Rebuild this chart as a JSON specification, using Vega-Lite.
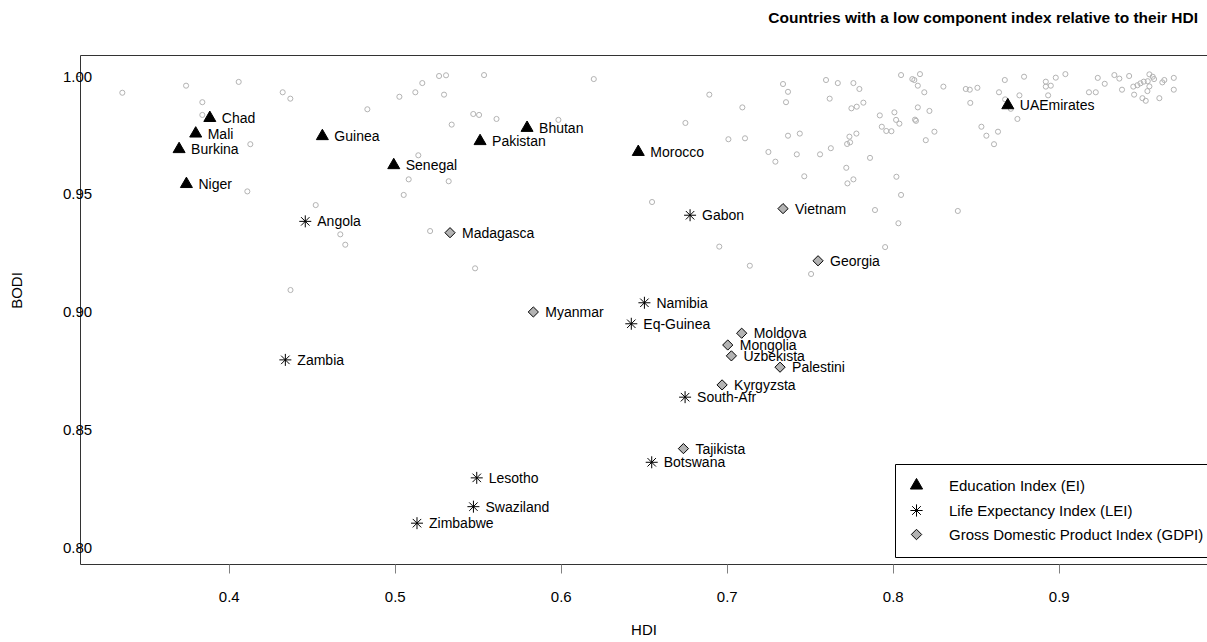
{
  "$schema": "https://vega.github.io/schema/vega-lite/v6.json",
  "width": 1127,
  "height": 509,
  "autosize": "none",
  "padding": {"left": 80, "top": 55, "right": 0, "bottom": 78},
  "background": "white",
  "title": {
    "text": "Countries with a low component index relative to their HDI",
    "anchor": "end",
    "frame": "group",
    "dx": -9,
    "offset": 14,
    "baseline": "bottom",
    "font": "Liberation Sans",
    "fontSize": 15.5,
    "fontWeight": "bold",
    "color": "black"
  },
  "config": {
    "view": {"stroke": "#333333", "strokeWidth": 1},
    "font": "Liberation Sans"
  },
  "datasets": {
    "bg": [
      {"hdi": 0.3359, "bodi": 0.9929}, {"hdi": 0.3743, "bodi": 0.9959}, {"hdi": 0.4060, "bodi": 0.9975},
      {"hdi": 0.3841, "bodi": 0.9889}, {"hdi": 0.3841, "bodi": 0.9835}, {"hdi": 0.4130, "bodi": 0.9711},
      {"hdi": 0.4112, "bodi": 0.9511}, {"hdi": 0.4325, "bodi": 0.9931}, {"hdi": 0.4371, "bodi": 0.9904},
      {"hdi": 0.4835, "bodi": 0.9859}, {"hdi": 0.5028, "bodi": 0.9912}, {"hdi": 0.5124, "bodi": 0.9931},
      {"hdi": 0.5166, "bodi": 0.9970}, {"hdi": 0.5267, "bodi": 1.0000}, {"hdi": 0.5309, "bodi": 1.0003},
      {"hdi": 0.5297, "bodi": 0.9921}, {"hdi": 0.5538, "bodi": 1.0004}, {"hdi": 0.5343, "bodi": 0.9794},
      {"hdi": 0.5473, "bodi": 0.9839}, {"hdi": 0.5508, "bodi": 0.9835}, {"hdi": 0.5142, "bodi": 0.9664},
      {"hdi": 0.5084, "bodi": 0.9562}, {"hdi": 0.5325, "bodi": 0.9554}, {"hdi": 0.5054, "bodi": 0.9496},
      {"hdi": 0.4524, "bodi": 0.9453}, {"hdi": 0.4672, "bodi": 0.9329}, {"hdi": 0.4702, "bodi": 0.9285},
      {"hdi": 0.5213, "bodi": 0.9343}, {"hdi": 0.5484, "bodi": 0.9185}, {"hdi": 0.4372, "bodi": 0.9093},
      {"hdi": 0.5613, "bodi": 0.9818}, {"hdi": 0.5986, "bodi": 0.9814}, {"hdi": 0.6199, "bodi": 0.9987},
      {"hdi": 0.6895, "bodi": 0.9921}, {"hdi": 0.7094, "bodi": 0.9867}, {"hdi": 0.6751, "bodi": 0.9801},
      {"hdi": 0.7010, "bodi": 0.9732}, {"hdi": 0.7110, "bodi": 0.9736}, {"hdi": 0.7339, "bodi": 0.9966},
      {"hdi": 0.7369, "bodi": 0.9933}, {"hdi": 0.7357, "bodi": 0.9889}, {"hdi": 0.7598, "bodi": 0.9983},
      {"hdi": 0.7669, "bodi": 0.9970}, {"hdi": 0.7763, "bodi": 0.9970}, {"hdi": 0.7799, "bodi": 0.9945},
      {"hdi": 0.7620, "bodi": 0.9904}, {"hdi": 0.7751, "bodi": 0.9863}, {"hdi": 0.7783, "bodi": 0.9870},
      {"hdi": 0.7823, "bodi": 0.9887}, {"hdi": 0.7922, "bodi": 0.9833}, {"hdi": 0.7934, "bodi": 0.9785},
      {"hdi": 0.7961, "bodi": 0.9767}, {"hdi": 0.7369, "bodi": 0.9747}, {"hdi": 0.7440, "bodi": 0.9756},
      {"hdi": 0.7251, "bodi": 0.9678}, {"hdi": 0.7293, "bodi": 0.9637}, {"hdi": 0.7422, "bodi": 0.9668},
      {"hdi": 0.7562, "bodi": 0.9668}, {"hdi": 0.7627, "bodi": 0.9694}, {"hdi": 0.7739, "bodi": 0.9743},
      {"hdi": 0.7781, "bodi": 0.9756}, {"hdi": 0.7725, "bodi": 0.9712}, {"hdi": 0.7743, "bodi": 0.9719},
      {"hdi": 0.7863, "bodi": 0.9653}, {"hdi": 0.7720, "bodi": 0.9611}, {"hdi": 0.7467, "bodi": 0.9575},
      {"hdi": 0.7727, "bodi": 0.9545}, {"hdi": 0.7763, "bodi": 0.9562}, {"hdi": 0.6550, "bodi": 0.9466},
      {"hdi": 0.7893, "bodi": 0.9432}, {"hdi": 0.6955, "bodi": 0.9277}, {"hdi": 0.7139, "bodi": 0.9196},
      {"hdi": 0.7954, "bodi": 0.9275}, {"hdi": 0.7508, "bodi": 0.9161}, {"hdi": 0.8050, "bodi": 1.0004},
      {"hdi": 0.8118, "bodi": 0.9987}, {"hdi": 0.8130, "bodi": 0.9983}, {"hdi": 0.8164, "bodi": 1.0008},
      {"hdi": 0.8151, "bodi": 0.9959}, {"hdi": 0.8190, "bodi": 0.9931}, {"hdi": 0.8305, "bodi": 0.9955},
      {"hdi": 0.8440, "bodi": 0.9945}, {"hdi": 0.8464, "bodi": 0.9942}, {"hdi": 0.8510, "bodi": 0.9950},
      {"hdi": 0.8467, "bodi": 0.9886}, {"hdi": 0.8675, "bodi": 0.9983}, {"hdi": 0.8640, "bodi": 0.9931},
      {"hdi": 0.8791, "bodi": 0.9997}, {"hdi": 0.8763, "bodi": 0.9918}, {"hdi": 0.8677, "bodi": 0.9901},
      {"hdi": 0.8711, "bodi": 0.9861}, {"hdi": 0.8751, "bodi": 0.9818}, {"hdi": 0.8922, "bodi": 0.9976},
      {"hdi": 0.8922, "bodi": 0.9955}, {"hdi": 0.8952, "bodi": 0.9959}, {"hdi": 0.8936, "bodi": 0.9918},
      {"hdi": 0.8982, "bodi": 0.9993}, {"hdi": 0.9040, "bodi": 1.0008}, {"hdi": 0.9182, "bodi": 0.9931},
      {"hdi": 0.9223, "bodi": 0.9931}, {"hdi": 0.9235, "bodi": 0.9992}, {"hdi": 0.9277, "bodi": 0.9967},
      {"hdi": 0.9335, "bodi": 1.0004}, {"hdi": 0.9365, "bodi": 0.9989}, {"hdi": 0.9381, "bodi": 0.9942},
      {"hdi": 0.9424, "bodi": 1.0000}, {"hdi": 0.9454, "bodi": 0.9921}, {"hdi": 0.9449, "bodi": 0.9955},
      {"hdi": 0.9474, "bodi": 0.9961}, {"hdi": 0.9492, "bodi": 0.9969}, {"hdi": 0.9512, "bodi": 0.9976},
      {"hdi": 0.9546, "bodi": 1.0007}, {"hdi": 0.9566, "bodi": 0.9997}, {"hdi": 0.9574, "bodi": 0.9987},
      {"hdi": 0.9536, "bodi": 0.9978}, {"hdi": 0.9546, "bodi": 0.9956}, {"hdi": 0.9534, "bodi": 0.9936},
      {"hdi": 0.9504, "bodi": 0.9906}, {"hdi": 0.9524, "bodi": 0.9895}, {"hdi": 0.9606, "bodi": 0.9906},
      {"hdi": 0.9624, "bodi": 0.9973}, {"hdi": 0.9636, "bodi": 0.9983}, {"hdi": 0.9693, "bodi": 0.9992},
      {"hdi": 0.9693, "bodi": 0.9942}, {"hdi": 0.8010, "bodi": 0.9846}, {"hdi": 0.8020, "bodi": 0.9814},
      {"hdi": 0.8040, "bodi": 0.9798}, {"hdi": 0.7992, "bodi": 0.9766}, {"hdi": 0.8151, "bodi": 0.9867},
      {"hdi": 0.8221, "bodi": 0.9852}, {"hdi": 0.8134, "bodi": 0.9815}, {"hdi": 0.8140, "bodi": 0.9810},
      {"hdi": 0.8251, "bodi": 0.9764}, {"hdi": 0.8199, "bodi": 0.9728}, {"hdi": 0.8534, "bodi": 0.9785},
      {"hdi": 0.8564, "bodi": 0.9747}, {"hdi": 0.8634, "bodi": 0.9764}, {"hdi": 0.8610, "bodi": 0.9711},
      {"hdi": 0.8022, "bodi": 0.9573}, {"hdi": 0.8050, "bodi": 0.9496}, {"hdi": 0.8392, "bodi": 0.9428},
      {"hdi": 0.8034, "bodi": 0.9376}
    ],
    "hi": [
      {"country": "Chad", "index": "Education Index (EI)", "hdi": 0.3886, "bodi": 0.9822},
      {"country": "Mali", "index": "Education Index (EI)", "hdi": 0.3801, "bodi": 0.9756},
      {"country": "Burkina", "index": "Education Index (EI)", "hdi": 0.3701, "bodi": 0.9690},
      {"country": "Niger", "index": "Education Index (EI)", "hdi": 0.3745, "bodi": 0.9542},
      {"country": "Guinea", "index": "Education Index (EI)", "hdi": 0.4564, "bodi": 0.9745},
      {"country": "Senegal", "index": "Education Index (EI)", "hdi": 0.4994, "bodi": 0.9622},
      {"country": "Pakistan", "index": "Education Index (EI)", "hdi": 0.5514, "bodi": 0.9724},
      {"country": "Bhutan", "index": "Education Index (EI)", "hdi": 0.5797, "bodi": 0.9780},
      {"country": "Morocco", "index": "Education Index (EI)", "hdi": 0.6467, "bodi": 0.9678},
      {"country": "UAEmirates", "index": "Education Index (EI)", "hdi": 0.8693, "bodi": 0.9876},
      {"country": "Angola", "index": "Life Expectancy Index (LEI)", "hdi": 0.4461, "bodi": 0.9384},
      {"country": "Gabon", "index": "Life Expectancy Index (LEI)", "hdi": 0.6779, "bodi": 0.9410},
      {"country": "Zambia", "index": "Life Expectancy Index (LEI)", "hdi": 0.4341, "bodi": 0.8797},
      {"country": "Namibia", "index": "Life Expectancy Index (LEI)", "hdi": 0.6504, "bodi": 0.9039},
      {"country": "Eq-Guinea", "index": "Life Expectancy Index (LEI)", "hdi": 0.6425, "bodi": 0.8950},
      {"country": "South-Afr", "index": "Life Expectancy Index (LEI)", "hdi": 0.6749, "bodi": 0.8639},
      {"country": "Botswana", "index": "Life Expectancy Index (LEI)", "hdi": 0.6548, "bodi": 0.8363},
      {"country": "Lesotho", "index": "Life Expectancy Index (LEI)", "hdi": 0.5494, "bodi": 0.8297},
      {"country": "Swaziland", "index": "Life Expectancy Index (LEI)", "hdi": 0.5474, "bodi": 0.8175},
      {"country": "Zimbabwe", "index": "Life Expectancy Index (LEI)", "hdi": 0.5134, "bodi": 0.8105},
      {"country": "Madagasca", "index": "Gross Domestic Product Index (GDPI)", "hdi": 0.5333, "bodi": 0.9336},
      {"country": "Vietnam", "index": "Gross Domestic Product Index (GDPI)", "hdi": 0.7339, "bodi": 0.9438},
      {"country": "Georgia", "index": "Gross Domestic Product Index (GDPI)", "hdi": 0.7550, "bodi": 0.9217},
      {"country": "Myanmar", "index": "Gross Domestic Product Index (GDPI)", "hdi": 0.5835, "bodi": 0.9000},
      {"country": "Moldova", "index": "Gross Domestic Product Index (GDPI)", "hdi": 0.7090, "bodi": 0.8910},
      {"country": "Mongolia", "index": "Gross Domestic Product Index (GDPI)", "hdi": 0.7006, "bodi": 0.8860},
      {"country": "Uzbekista", "index": "Gross Domestic Product Index (GDPI)", "hdi": 0.7028, "bodi": 0.8814},
      {"country": "Palestini", "index": "Gross Domestic Product Index (GDPI)", "hdi": 0.7321, "bodi": 0.8766},
      {"country": "Kyrgyzsta", "index": "Gross Domestic Product Index (GDPI)", "hdi": 0.6972, "bodi": 0.8691},
      {"country": "Tajikista", "index": "Gross Domestic Product Index (GDPI)", "hdi": 0.6739, "bodi": 0.8421}
    ]
  },
  "encoding": {
    "x": {
      "field": "hdi", "type": "quantitative",
      "scale": {"domain": [0.3104, 0.9893], "nice": false, "zero": false},
      "axis": {
        "title": "HDI", "values": [0.4, 0.5, 0.6, 0.7, 0.8, 0.9], "format": ".1f",
        "domain": false, "grid": false, "tickSize": 9, "tickColor": "#808080", "tickWidth": 1,
        "labelFont": "Liberation Sans", "labelFontSize": 15, "labelColor": "black", "labelPadding": 16,
        "titleFont": "Liberation Sans", "titleFontSize": 15, "titleFontWeight": "normal", "titleColor": "black",
        "titleY": 65, "titleBaseline": "middle"
      }
    },
    "y": {
      "field": "bodi", "type": "quantitative",
      "scale": {"domain": [0.7932, 1.0089], "nice": false, "zero": false},
      "axis": {
        "title": "BODI", "values": [0.8, 0.85, 0.9, 0.95, 1.0], "format": ".2f",
        "domain": false, "grid": false, "tickSize": 4, "tickColor": "#808080",
        "labelFont": "Liberation Sans", "labelFontSize": 15, "labelColor": "black", "labelPadding": -1,
        "labelAlign": "center", "labelBaseline": "middle",
        "titleFont": "Liberation Sans", "titleFontSize": 15, "titleFontWeight": "normal", "titleColor": "black",
        "titleX": -64, "titleY": 235, "titleBaseline": "middle", "titleAlign": "center", "titleAngle": -90
      }
    }
  },
  "layer": [
    {
      "data": {"name": "bg"},
      "mark": {"type": "point", "shape": "circle", "size": 26, "filled": false, "stroke": "#b3b3b3", "strokeWidth": 1, "opacity": 1}
    },
    {
      "data": {"name": "hi"},
      "mark": {"type": "point", "strokeWidth": 1, "opacity": 1, "size": 144},
      "encoding": {
        "shape": {
          "field": "index", "type": "nominal",
          "scale": {
            "domain": ["Education Index (EI)", "Life Expectancy Index (LEI)", "Gross Domestic Product Index (GDPI)"],
            "range": ["M0,-1.1547L1,0.5774L-1,0.5774Z", "M0,-1L0,1M-1,0L1,0M-0.707,-0.707L0.707,0.707M-0.707,0.707L0.707,-0.707", "M0,-0.85L0.85,0L0,0.85L-0.85,0Z"]
          },
          "legend": {
            "title": null, "orient": "none", "legendX": 815, "legendY": 409, "direction": "vertical",
            "strokeColor": "black", "fillColor": "white", "padding": 14, "rowPadding": 8,
            "labelFont": "Liberation Sans", "labelFontSize": 15, "labelColor": "black", "labelLimit": 400,
            "labelOffset": 25, "symbolSize": 150, "symbolStrokeColor": "black", "symbolStrokeWidth": 1,
            "encode": {"symbols": {"update": {"fill": {"scale": "fill", "field": "value"}, "stroke": {"value": "black"}, "strokeWidth": {"value": 1}, "opacity": {"value": 1}, "strokeOpacity": {"value": 1}}, "stroke": {"value": "black"}, "strokeWidth": {"value": 1}}}
          }
        },
        "fill": {
          "field": "index", "type": "nominal",
          "scale": {
            "domain": ["Education Index (EI)", "Life Expectancy Index (LEI)", "Gross Domestic Product Index (GDPI)"],
            "range": ["black", "transparent", "#b3b3b3"]
          },
          "legend": null
        },
        "stroke": {
          "field": "index", "type": "nominal",
          "scale": {
            "domain": ["Education Index (EI)", "Life Expectancy Index (LEI)", "Gross Domestic Product Index (GDPI)"],
            "range": ["black", "black", "black"]
          },
          "legend": null
        }
      }
    },
    {
      "data": {"name": "hi"},
      "mark": {"type": "text", "align": "left", "baseline": "middle", "dx": 12, "dy": 1, "font": "Liberation Sans", "fontSize": 14, "color": "black"},
      "encoding": {"text": {"field": "country", "type": "nominal"}}
    }
  ]
}
